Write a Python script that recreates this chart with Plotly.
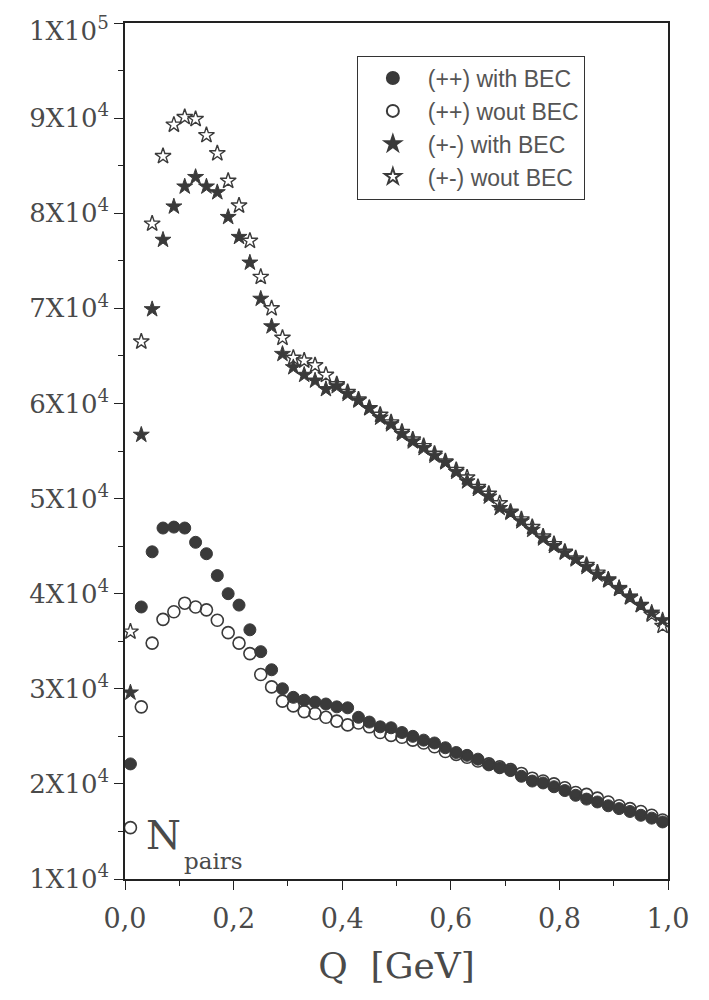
import plotly.graph_objects as go

Q = [round(0.01 + 0.02 * i, 2) for i in range(50)]

pp_with = [2.21, 3.86, 4.44, 4.69, 4.70, 4.69, 4.54, 4.42, 4.19, 4.00,
           3.88, 3.62, 3.39, 3.20, 3.00, 2.91, 2.88, 2.86, 2.84, 2.81,
           2.80, 2.70, 2.65, 2.60, 2.59, 2.54, 2.50, 2.46, 2.43, 2.38,
           2.33, 2.30, 2.26, 2.20, 2.17, 2.14, 2.08, 2.03, 2.01, 1.97,
           1.93, 1.88, 1.84, 1.81, 1.77, 1.74, 1.71, 1.67, 1.64, 1.60]

pp_wout = [1.54, 2.81, 3.48, 3.73, 3.81, 3.90, 3.86, 3.83, 3.72, 3.59,
           3.48, 3.37, 3.15, 3.02, 2.87, 2.82, 2.76, 2.74, 2.70, 2.66,
           2.62, 2.64, 2.60, 2.54, 2.51, 2.49, 2.46, 2.43, 2.39, 2.34,
           2.31, 2.28, 2.24, 2.21, 2.18, 2.15, 2.11, 2.06, 2.03, 2.00,
           1.96, 1.91, 1.89, 1.85, 1.81, 1.77, 1.74, 1.71, 1.67, 1.62]

pm_with = [2.96, 5.67, 6.99, 7.72, 8.07, 8.28, 8.38, 8.28, 8.22, 7.96,
           7.75, 7.48, 7.10, 6.81, 6.52, 6.38, 6.30, 6.24, 6.15, 6.18,
           6.10, 6.03, 5.95, 5.85, 5.78, 5.68, 5.60, 5.53, 5.45, 5.38,
           5.28, 5.18, 5.10, 5.02, 4.90, 4.85, 4.76, 4.67, 4.58, 4.50,
           4.43, 4.36, 4.28, 4.20, 4.15, 4.06, 3.97, 3.88, 3.80, 3.72]

pm_wout = [3.60, 6.65, 7.89, 8.60, 8.93, 9.01, 8.99, 8.82, 8.63, 8.34,
           8.08, 7.71, 7.33, 7.00, 6.69, 6.48, 6.45, 6.40, 6.30, 6.20,
           6.12, 6.04, 5.95, 5.88, 5.80, 5.70, 5.62, 5.55, 5.47, 5.39,
           5.30, 5.22, 5.12, 5.05, 4.95, 4.86, 4.78, 4.70, 4.60, 4.52,
           4.44, 4.37, 4.30, 4.22, 4.14, 4.05, 3.96, 3.88, 3.78, 3.66]

SCALE = 1e4  # values above are in units of 10^4

series_names = ["(++) with BEC", "(++) wout BEC", "(+-) with BEC", "(+-) wout BEC"]
y_tick_vals = [1e4 * k for k in range(1, 11)]
y_tick_text = ["1X10<sup>4</sup>", "2X10<sup>4</sup>", "3X10<sup>4</sup>", "4X10<sup>4</sup>",
               "5X10<sup>4</sup>", "6X10<sup>4</sup>", "7X10<sup>4</sup>", "8X10<sup>4</sup>",
               "9X10<sup>4</sup>", "1X10<sup>5</sup>"]
x_tick_vals = [0.0, 0.2, 0.4, 0.6, 0.8, 1.0]
x_tick_text = ["0,0", "0,2", "0,4", "0,6", "0,8", "1,0"]

ink = "#3a3a3a"
txt = "#4a4a4a"
serif = "DejaVu Serif"
ytick_size = 26

fig = go.Figure()

styles = [
    dict(symbol="circle", size=12, color=ink, line=dict(width=1, color=ink)),
    dict(symbol="circle-open", size=12, color=ink, line=dict(width=1.6, color=ink)),
    dict(symbol="star", size=12, color=ink, line=dict(width=1, color=ink)),
    dict(symbol="star-open", size=12, color=ink, line=dict(width=1.4, color=ink)),
]
data = [pp_with, pp_wout, pm_with, pm_wout]

order = [0, 2, 1, 3]
for i in order:
    fig.add_trace(go.Scatter(
        x=Q, y=[v * SCALE for v in data[i]], mode="markers",
        name=series_names[i], marker=styles[i], legendrank=i + 1,
    ))

# the page body adds an 8 px offset; margins compensate for it
fig.update_layout(
    width=709, height=1000,
    margin=dict(l=117, r=49, t=15, b=129),
    paper_bgcolor="white", plot_bgcolor="white",
    showlegend=True,
    legend=dict(
        x=0.427, y=0.962, xanchor="left", yanchor="top",
        bgcolor="white", bordercolor="#333", borderwidth=1,
        font=dict(family="Liberation Sans", size=23, color="#555"),
        itemsizing="constant", tracegroupgap=0, itemwidth=60,
    ),
    font=dict(family=serif, color=txt),
)

fig.update_xaxes(
    range=[0, 1], tickvals=x_tick_vals, ticktext=x_tick_text, automargin=False,
    showline=True, mirror=True, linecolor="#222", linewidth=1.5,
    ticks="outside", ticklen=9, tickwidth=1.3, tickcolor="#222",
    minor=dict(tickvals=[0.1, 0.3, 0.5, 0.7, 0.9], ticks="outside", ticklen=5, tickcolor="#222"),
    showgrid=False, zeroline=False, ticklabelstandoff=6, ticklabeloverflow="allow",
    tickfont=dict(family=serif, size=27, color=txt),
    title=dict(text="Q  [GeV]", font=dict(family=serif, size=36, color=txt), standoff=20),
)
# top label is drawn as an annotation a few pixels lower so its exponent is not clipped
fig.update_yaxes(
    range=[1e4, 1e5], tickvals=y_tick_vals, ticktext=y_tick_text[:-1] + [""], automargin=False,
    showline=True, mirror=True, linecolor="#222", linewidth=1.5,
    ticks="outside", ticklen=9, tickwidth=1.3, tickcolor="#222",
    minor=dict(tickvals=[1.5e4 + 1e4 * k for k in range(9)], ticks="outside", ticklen=5, tickcolor="#222"),
    showgrid=False, zeroline=False, ticklabeloverflow="allow",
    tickfont=dict(family=serif, size=ytick_size, color=txt),
)
fig.add_annotation(x=0, y=y_tick_vals[-1], xref="paper", yref="y", xanchor="right", yanchor="middle",
                   xshift=-14, yshift=-6, text=y_tick_text[-1], showarrow=False,
                   font=dict(family=serif, size=ytick_size, color=txt))

fig.add_annotation(x=0.035, y=0.022, xref="paper", yref="paper", xanchor="left", yanchor="bottom",
                   text="N", showarrow=False, font=dict(family=serif, size=40, color=txt))
fig.add_annotation(x=0.105, y=0.004, xref="paper", yref="paper", xanchor="left", yanchor="bottom",
                   text="pairs", showarrow=False, font=dict(family=serif, size=23, color=txt))

fig.write_html("out.html")
